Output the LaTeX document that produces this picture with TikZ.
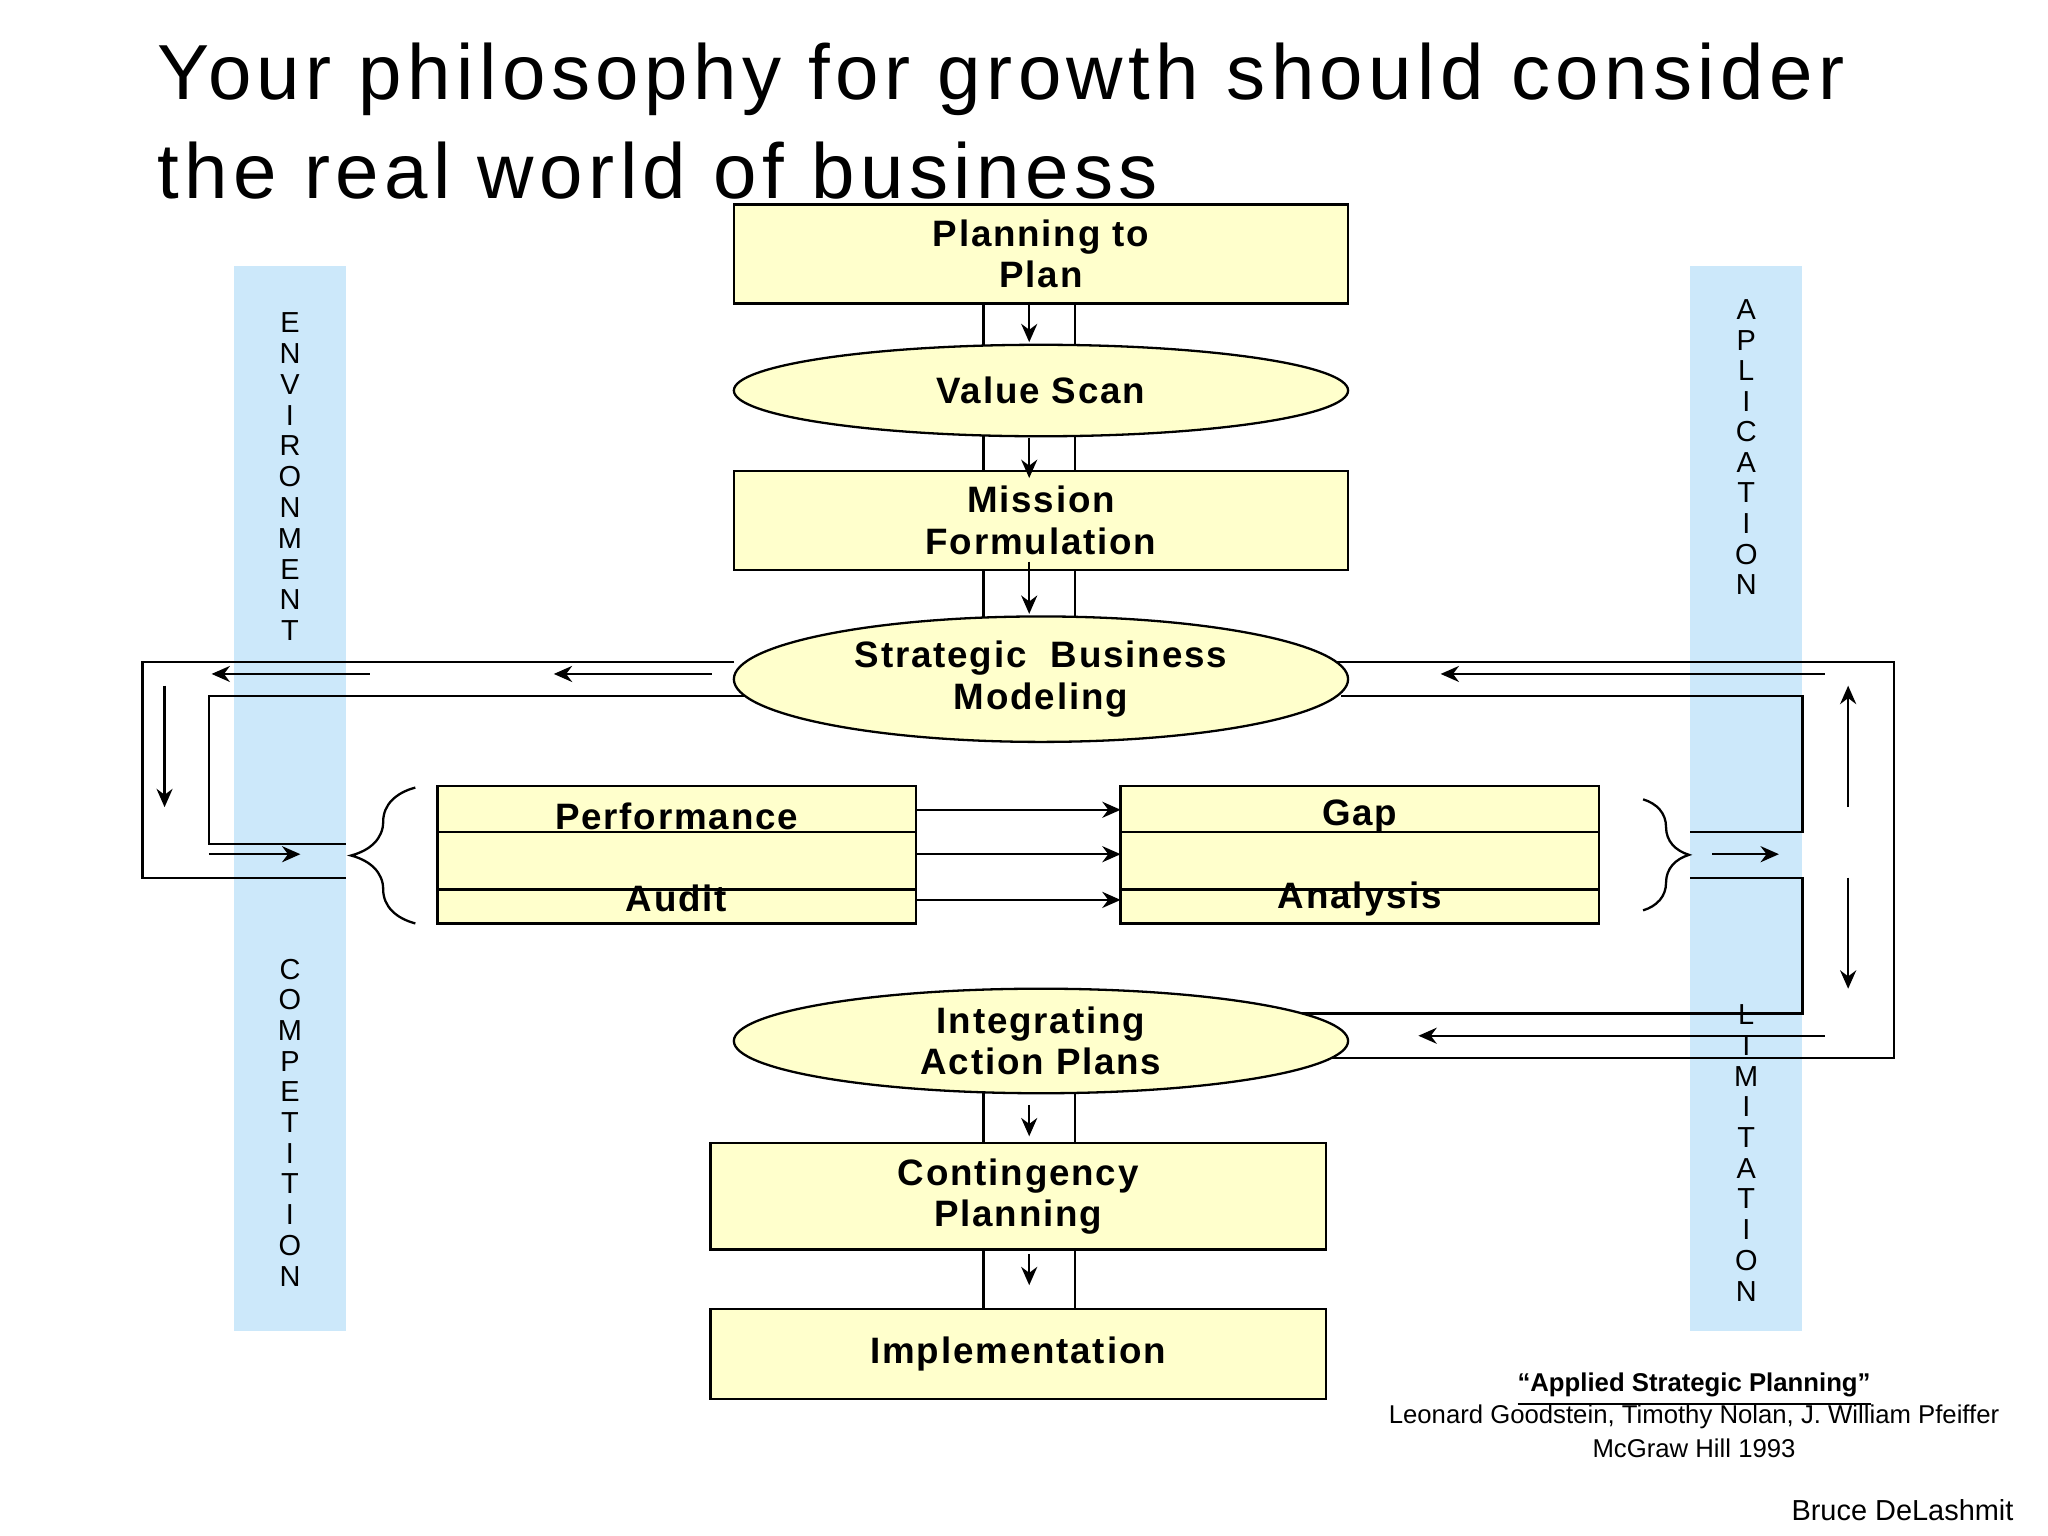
\documentclass[tikz,border=0pt]{standalone}
\usepackage{fontspec}
\setmainfont{Liberation Sans}
\newfontfamily\titlefont{Liberation Sans}[LetterSpace=7]
\newfontfamily\boxfont{Liberation Sans}[LetterSpace=5]
\usetikzlibrary{shapes.geometric,decorations.pathreplacing,arrows.meta}
\definecolor{boxfill}{RGB}{255,255,204}
\definecolor{barblue}{RGB}{204,232,250}
\tikzset{
  stage/.style={draw,fill=boxfill,line width=0.5pt,font=\boxfont\bfseries\fontsize{8}{9}\selectfont,align=center},
  oval/.style={stage,ellipse,inner sep=0pt},
  flow/.style={-{Stealth[length=4pt,width=3.5pt]},line width=0.5pt},
  wire/.style={line width=0.5pt},
  bar/.style={fill=barblue,draw=none},
  vword/.style={font=\fontsize{6.3}{6.3}\selectfont}
}
\begin{document}
\begin{tikzpicture}[x=0.01cm,y=-0.01cm]
\useasboundingbox (0,0) rectangle (1568,1176);
% title
\node[anchor=north west,font=\titlefont\fontsize{17}{21.5}\selectfont,align=left,inner sep=0pt] (title) at (120,32)
  {Your philosophy for growth should consider\\the real world of business};
% side bars
\fill[bar] (179,204) rectangle (265,1019);
\fill[bar] (1294,204) rectangle (1380,1019);
\foreach \c [count=\i from 0] in {E,N,V,I,R,O,N,M,E,N,T}
  \node[vword] (env\i) at (222,247+23.6*\i) {\c};
\foreach \c [count=\i from 0] in {C,O,M,P,E,T,I,T,I,O,N}
  \node[vword] (comp\i) at (222,742+23.5*\i) {\c};
\foreach \c [count=\i from 0] in {A,P,L,I,C,A,T,I,O,N}
  \node[vword] (apl\i) at (1337,237+23.4*\i) {\c};
\foreach \c [count=\i from 0] in {L,I,M,I,T,A,T,I,O,N}
  \node[vword] (lim\i) at (1337,777+23.5*\i) {\c};
% vertical double lines
\foreach \a/\b in {229/264,334/368,429/473,836/882,950/1002}{
  \draw[wire] (753,\a) -- (753,\b);
  \draw[wire] (823,\a) -- (823,\b);
}
% loops
\draw[wire] (562,507) -- (109,507) -- (109,672) -- (265,672);
\draw[wire] (580,533) -- (160,533) -- (160,646) -- (265,646);
\draw[wire] (1015,507) -- (1450,507) -- (1450,810) -- (1015,810);
\draw[wire] (1027,533) -- (1380,533) -- (1380,637) -- (1294,637);
\draw[wire] (1294,672) -- (1380,672) -- (1380,776) -- (997,776);
% boxes
\node[stage,minimum width=4.7cm,minimum height=0.69cm] (plan) at (797,194.5) {Planning to\\Plan};
\node[oval,minimum width=4.7cm,minimum height=0.7cm] (value) at (797,299) {Value Scan};
\node[stage,minimum width=4.7cm,minimum height=0.61cm] (mission) at (797,398.5) {Mission\\Formulation};
\node[oval,minimum width=4.7cm,minimum height=0.96cm] (model) at (797,520) {Strategic~ Business\\Modeling};
\node[stage,minimum width=3.66cm,minimum height=1.05cm] (perf) at (518,654.5) {};
\node[stage,minimum width=3.66cm,minimum height=1.05cm] (gap) at (1041,654.5) {};
\draw[wire] (335,637) -- (701,637) (335,681) -- (701,681);
\draw[wire] (858,637) -- (1224,637) (858,681) -- (1224,681);
\node[font=\boxfont\bfseries\fontsize{8}{9}\selectfont] (perfA) at (518,625) {Performance};
\node[font=\boxfont\bfseries\fontsize{8}{9}\selectfont] (perfB) at (518,688) {Audit};
\node[font=\boxfont\bfseries\fontsize{8}{9}\selectfont] (gapA) at (1041,625) {Gap};
\node[font=\boxfont\bfseries\fontsize{8}{9}\selectfont] (gapB) at (1041,688) {Analysis};
\node[oval,minimum width=4.7cm,minimum height=0.8cm] (integ) at (797,797) {Integrating\\Action Plans};
\node[stage,minimum width=4.71cm,minimum height=0.68cm] (cont) at (779.5,916) {Contingency\\Planning};
\node[stage,minimum width=4.71cm,minimum height=0.69cm] (impl) at (779.5,1036.5) {Implementation};
% down arrows
\foreach \a/\b in {231/262,335/366,430/470,846/870,960/984}
  \draw[flow] (788,\a) -- (788,\b);
% loop arrows
\draw[flow] (283,516) -- (162,516);
\draw[flow] (545,516) -- (424,516);
\draw[flow] (126,525) -- (126,618);
\draw[flow] (160,654) -- (230,654);
\draw[flow] (1397,516) -- (1103,516);
\draw[flow] (1415,618) -- (1415,525);
\draw[flow] (1311,654) -- (1362,654);
\draw[flow] (1415,672) -- (1415,757);
\draw[flow] (1397,793) -- (1086,793);
\foreach \y in {620,654,689}
  \draw[flow] (701,\y) -- (858,\y);
% braces
\draw[wire,decorate,decoration={brace,amplitude=14pt}] (318,707) -- (318,603);
\draw[wire,decorate,decoration={brace,amplitude=10pt}] (1258,612) -- (1258,697);
% citation
\node[font=\bfseries\fontsize{5.6}{6}\selectfont] (cite) at (1297,1064) {\underline{``Applied Strategic Planning''}};
\node[font=\fontsize{5.6}{7.5}\selectfont,align=center] (authors) at (1297,1096) {Leonard Goodstein, Timothy Nolan, J. William Pfeiffer\\McGraw Hill 1993};
\node[font=\fontsize{6.3}{7}\selectfont,anchor=east] (sig) at (1554,1156) {Bruce DeLashmit};
\end{tikzpicture}
\end{document}
